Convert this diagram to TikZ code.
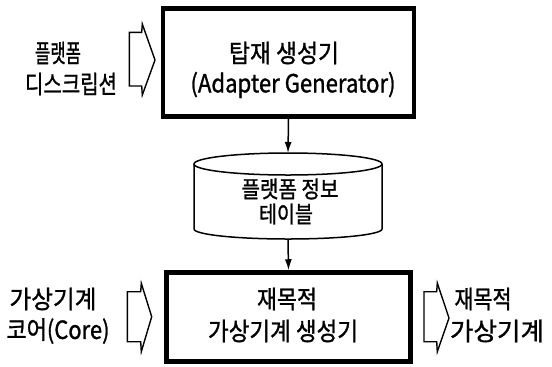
\documentclass[tikz,border=0pt]{standalone}
\usepackage{fontspec}
\usepackage{graphicx}
\usetikzlibrary{arrows.meta}
\newfontfamily\kr[FakeBold=1.2]{Noto Sans CJK KR}
\newcommand\fitw[2]{\resizebox{#1}{\height}{#2}}
\begin{document}
\begin{tikzpicture}[x=1bp,y=-1bp,
  lbl/.style={font=\kr\fontsize{25bp}{30bp}\selectfont, inner sep=0pt},
  cyllbl/.style={font=\kr\fontsize{23bp}{28bp}\selectfont, inner sep=0pt},
  mainbox/.style={draw, line width=4.5bp, inner sep=0pt},
  barrow/.style={draw, line width=1.4bp, line join=miter},
  cylline/.style={draw, line width=1.5bp},
  flow/.style={draw, line width=1.5bp, -{Latex[length=11bp,width=7bp]}}]
\useasboundingbox (0,0) rectangle (552,366);

% boxes
\node[mainbox, minimum width=251bp, minimum height=108bp] (gen) at (288.5,62.5) {};
\node[mainbox, minimum width=244bp, minimum height=89bp] (vmgen) at (288.5,317) {};

% cylinder
\path[cylline] (194,164) -- (194,229) arc[start angle=180, end angle=360, x radius=94bp, y radius=10bp] -- (382,164);
\path[cylline] (288,164) ellipse[x radius=94bp, y radius=11bp];
\coordinate (cyltop) at (288,153);
\coordinate (cylbot) at (288,239);

% flow arrows
\draw[flow] (gen.south) -- (cyltop);
\draw[flow] (cylbot) -- (vmgen.north);

% block arrows
\path[barrow] (129.3,32.3) -- (141.7,32.3) -- (142.3,24) -- (155,60) -- (142.3,95) -- (141.7,86) -- (129.3,86) -- cycle;
\path[barrow] (127.3,291.7) -- (140.7,291.7) -- (141.3,283.3) -- (151.7,316.7) -- (141.3,351.7) -- (140.7,341.7) -- (127.3,341.7) -- cycle;
\path[barrow] (424,291.7) -- (436.7,291.7) -- (437.3,283) -- (449,318) -- (437.3,351.7) -- (436.7,341.7) -- (424,341.7) -- cycle;

% texts
\node[lbl] (pd1) at (58,53) {\fitw{46bp}{플랫폼}};
\node[lbl] (pd2) at (71,84) {\fitw{92bp}{디스크립션}};
\node[lbl] (g1) at (284,53) {\fitw{110bp}{탑재 생성기}};
\node[lbl] (g2) at (293,85) {\fitw{205bp}{(Adapter Generator)}};
\node[cyllbl] (c1) at (290,189) {\fitw{97bp}{플랫폼 정보}};
\node[cyllbl] (c2) at (286,214) {\fitw{54bp}{테이블}};
\node[lbl] (vc1) at (53,299) {\fitw{87bp}{가상기계}};
\node[lbl] (vc2) at (58,331) {\fitw{103bp}{코어(Core)}};
\node[lbl] (v1) at (287,299) {\fitw{60bp}{재목적}};
\node[lbl] (v2) at (283,331) {\fitw{150bp}{가상기계 생성기}};
\node[lbl] (r1) at (483,299) {\fitw{57bp}{재목적}};
\node[lbl] (r2) at (497,331) {\fitw{94bp}{가상기계}};
\end{tikzpicture}
\end{document}
